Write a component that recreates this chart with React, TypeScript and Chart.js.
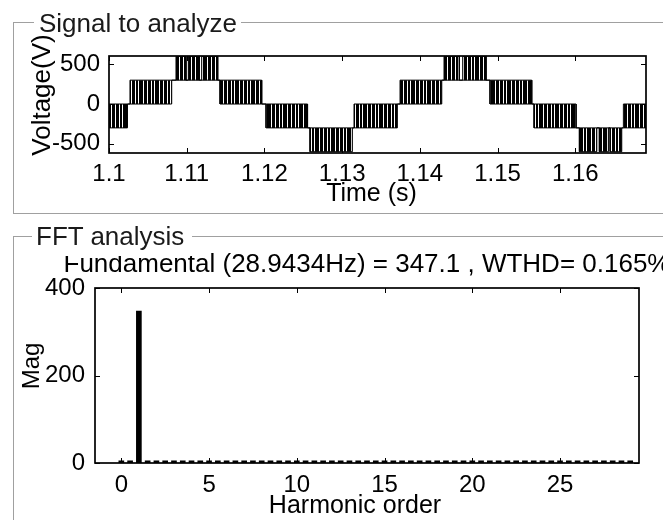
import React, { useEffect, useRef } from 'react';
import { Chart, registerables } from 'chart.js';

Chart.register(...registerables);

const FONT = "'Liberation Sans', Arial, Helvetica, sans-serif";

// ---------- Signal to analyze (PWM voltage) ----------
const timeMin = 1.1;
const timeMax = 1.1691;
const voltMin = -616;
const voltMax = 604;
const timeTicks = [1.1, 1.11, 1.12, 1.13, 1.14, 1.15, 1.16];
const timeTickLabels = ['1.1', '1.11', '1.12', '1.13', '1.14', '1.15', '1.16'];
const voltTicks = [-500, 0, 500];
const voltTickLabels = ['-500', '0', '500'];

// switching bands: inside each band the output toggles between bandLow and bandHigh
const bandStart = [1.1, 1.1027, 1.10862, 1.11429, 1.12021, 1.12587, 1.13153, 1.13745, 1.14311, 1.14903, 1.1547, 1.16053, 1.16619];
const bandEnd = [1.10238, 1.10807, 1.11399, 1.11965, 1.12555, 1.13131, 1.1371, 1.14282, 1.14852, 1.1544, 1.1601, 1.16598, 1.16911];
const bandLow = [-300, 0, 300, 0, -300, -600, -300, 0, 300, 0, -300, -600, -300];
const bandHigh = [0, 300, 600, 300, 0, -300, 0, 300, 600, 300, 0, -300, 0];
// level held between band i and band i+1
const restLevel = [0, 300, 300, 0, -300, -300, 0, 300, 300, 0, -300, -300];
// short pauses inside the peak bands
const pauseStart = [1.10991, 1.11162, 1.14508, 1.16277, 1.16426];
const pauseEnd = [1.11021, 1.11193, 1.14552, 1.1631, 1.16448];
const pauseLevel = [300, 300, 300, -300, -300];

// ---------- FFT analysis ----------
const fftTitle = 'Fundamental (28.9434Hz) = 347.1 , WTHD= 0.165%';
const harmonicOrder = [0, 0.5, 1, 1.5, 2, 2.5, 3, 3.5, 4, 4.5, 5, 5.5, 6, 6.5, 7, 7.5, 8, 8.5, 9, 9.5, 10, 10.5, 11, 11.5, 12, 12.5, 13, 13.5, 14, 14.5, 15, 15.5, 16, 16.5, 17, 17.5, 18, 18.5, 19, 19.5, 20, 20.5, 21, 21.5, 22, 22.5, 23, 23.5, 24, 24.5, 25, 25.5, 26, 26.5, 27, 27.5, 28, 28.5, 29];
const harmonicMag = [5, 5, 347.1, 5, 5, 5, 5, 5, 5, 5, 5, 5, 5, 5, 5, 5, 5, 5, 5, 5, 5, 5, 5, 5, 5, 5, 5, 5, 5, 5, 5, 5, 5, 5, 5, 5, 5, 5, 5, 5, 5, 5, 5, 5, 5, 5, 5, 5, 5, 5, 5, 5, 5, 5, 5, 5, 5, 5, 5];
const orderMin = -1.5;
const orderMax = 29.5;
const magMin = 0;
const magMax = 400;
const harmonicTicks = [0, 5, 10, 15, 20, 25];
const harmonicTickLabels = ['0', '5', '10', '15', '20', '25'];
const magTicks = [0, 200, 400];
const magTickLabels = ['0', '200', '400'];

function buildEnvelopes() {
  const upper: { x: number; y: number }[] = [];
  const lower: { x: number; y: number }[] = [];
  const push = (x: number, hi: number, lo: number) => {
    upper.push({ x, y: hi });
    lower.push({ x, y: lo });
  };
  bandStart.forEach((s, i) => {
    const e = bandEnd[i];
    if (i > 0) push(s, restLevel[i - 1], restLevel[i - 1]);
    push(s, bandHigh[i], bandLow[i]);
    pauseStart.forEach((ps, j) => {
      if (ps > s && ps < e) {
        push(ps, bandHigh[i], bandLow[i]);
        push(ps, pauseLevel[j], pauseLevel[j]);
        push(pauseEnd[j], pauseLevel[j], pauseLevel[j]);
        push(pauseEnd[j], bandHigh[i], bandLow[i]);
      }
    });
    push(e, bandHigh[i], bandLow[i]);
    if (i < bandStart.length - 1) push(e, restLevel[i], restLevel[i]);
  });
  return { upper, lower };
}

function stripePattern(ctx: CanvasRenderingContext2D) {
  const seq = [1, 1, 1, 0, 1, 1, 1, 0, 1, 1, 0, 1, 1, 1, 1, 0];
  const c = document.createElement('canvas');
  c.width = seq.length;
  c.height = 4;
  const g = c.getContext('2d')!;
  g.fillStyle = '#fff';
  g.fillRect(0, 0, c.width, c.height);
  g.fillStyle = '#000';
  seq.forEach((v, i) => {
    if (v) g.fillRect(i, 0, 1, c.height);
  });
  return ctx.createPattern(c, 'repeat');
}

const framePlugin = {
  id: 'matlabFrame',
  afterDatasetsDraw(chart: any, _args: any, opts: any) {
    const { ctx, chartArea: a, scales } = chart;
    const len = (opts && opts.tickLen) || 5;
    ctx.save();
    ctx.strokeStyle = '#000';
    ctx.lineWidth = 1;
    ctx.beginPath();
    for (const t of scales.x.ticks) {
      const px = Math.round(scales.x.getPixelForValue(t.value)) + 0.5;
      ctx.moveTo(px, a.bottom);
      ctx.lineTo(px, a.bottom - len);
      ctx.moveTo(px, a.top);
      ctx.lineTo(px, a.top + len);
    }
    for (const t of scales.y.ticks) {
      const py = Math.round(scales.y.getPixelForValue(t.value)) + 0.5;
      ctx.moveTo(a.left, py);
      ctx.lineTo(a.left + len, py);
      ctx.moveTo(a.right, py);
      ctx.lineTo(a.right - len, py);
    }
    ctx.stroke();
    ctx.lineWidth = 1.7;
    ctx.strokeRect(a.left, a.top, a.right - a.left, a.bottom - a.top);
    ctx.restore();
  },
};

const tickFont = { family: FONT, size: 24 };

function axisX(min: number, max: number, ticks: number[], labels: string[], pad: number, h: number) {
  return {
    type: 'linear' as const,
    min,
    max,
    offset: false,
    grid: { display: false, drawTicks: false },
    border: { display: false },
    afterBuildTicks: (s: any) => {
      s.ticks = ticks.map((v) => ({ value: v }));
    },
    afterFit: (s: any) => {
      s.height = h;
    },
    ticks: {
      font: tickFont,
      color: '#000',
      padding: pad,
      maxRotation: 0,
      autoSkip: false,
      callback: (_v: any, i: number) => labels[i],
    },
  };
}

function axisY(min: number, max: number, ticks: number[], labels: string[], pad: number, w: number) {
  return {
    type: 'linear' as const,
    min,
    max,
    grid: { display: false, drawTicks: false },
    border: { display: false },
    afterBuildTicks: (s: any) => {
      s.ticks = ticks.map((v) => ({ value: v }));
    },
    afterFit: (s: any) => {
      s.width = w;
    },
    ticks: {
      font: tickFont,
      color: '#000',
      padding: pad,
      autoSkip: false,
      callback: (_v: any, i: number) => labels[i],
    },
  };
}

export default function App() {
  const topRef = useRef<HTMLCanvasElement>(null);
  const botRef = useRef<HTMLCanvasElement>(null);

  useEffect(() => {
    const { upper, lower } = buildEnvelopes();
    const topCtx = topRef.current!.getContext('2d')!;
    const pattern = stripePattern(topCtx);
    const top = new Chart(topRef.current!, {
      type: 'line',
      data: {
        datasets: [
          { data: upper, borderColor: '#000', borderWidth: 1, pointRadius: 0, tension: 0, fill: false },
          { data: lower, borderColor: '#000', borderWidth: 1, pointRadius: 0, tension: 0, fill: '-1', backgroundColor: pattern as any },
        ],
      },
      options: {
        animation: false,
        responsive: false,
        events: [],
        layout: { padding: { left: 49, right: 17, top: 56, bottom: 19 } },
        plugins: { legend: { display: false }, tooltip: { enabled: false }, title: { display: false } } as any,
        scales: {
          x: axisX(timeMin, timeMax, timeTicks, timeTickLabels, 7, 40),
          y: axisY(voltMin, voltMax, voltTicks, voltTickLabels, 9, 60),
        } as any,
      },
      plugins: [framePlugin as any],
    });

    const bot = new Chart(botRef.current!, {
      type: 'bar',
      data: {
        datasets: [
          {
            data: harmonicOrder.map((h, i) => ({ x: h, y: harmonicMag[i] })) as any,
            backgroundColor: '#000',
            borderWidth: 0,
            barThickness: 5,
          },
        ],
      },
      options: {
        animation: false,
        responsive: false,
        events: [],
        layout: { padding: { left: 35, right: 24, top: 28, bottom: 17 } },
        plugins: { legend: { display: false }, tooltip: { enabled: false }, title: { display: false } } as any,
        scales: {
          x: axisX(orderMin, orderMax, harmonicTicks, harmonicTickLabels, 8, 40),
          y: axisY(magMin, magMax, magTicks, magTickLabels, 10, 60),
        } as any,
      },
      plugins: [framePlugin as any],
    });

    return () => {
      top.destroy();
      bot.destroy();
    };
  }, []);

  const abs = (s: React.CSSProperties): React.CSSProperties => ({ position: 'absolute', ...s });
  const line = '1px solid #a0a0a0';

  return (
    <div style={{ position: 'fixed', left: 0, top: 0, width: 663, height: 520, background: '#fff', overflow: 'hidden', fontFamily: FONT, color: '#000' }}>
      <canvas ref={topRef} width={663} height={212} style={abs({ left: 0, top: 0 })} />
      <canvas ref={botRef} width={663} height={260} style={abs({ left: 0, top: 260 })} />

      {/* group boxes */}
      <div style={abs({ left: 13, top: 22, width: 700, height: 190, borderTop: line, borderLeft: line, borderBottom: line })} />
      <div style={abs({ left: 13, top: 236, width: 700, height: 400, borderTop: line, borderLeft: line })} />

      {/* FFT title */}
      <div style={abs({ left: -33, top: 250, width: 800, textAlign: 'center', fontSize: 26, lineHeight: '26px', whiteSpace: 'nowrap' })}>{fftTitle}</div>

      {/* group labels */}
      <div style={abs({ left: 34, top: 4, width: 207, height: 32, background: '#fff' })}>
        <div style={abs({ left: 5, top: 6, fontSize: 26, lineHeight: '26px', whiteSpace: 'nowrap', color: '#1a1a1a' })}>Signal to analyze</div>
      </div>
      <div style={abs({ left: 32, top: 218, width: 160, height: 38, background: '#fff' })}>
        <div style={abs({ left: 4, top: 5, fontSize: 26, lineHeight: '26px', whiteSpace: 'nowrap', color: '#1a1a1a' })}>FFT analysis</div>
      </div>

      {/* axis titles */}
      <div style={abs({ left: 221.5, top: 179.5, width: 300, textAlign: 'center', fontSize: 25, lineHeight: '25px', whiteSpace: 'nowrap' })}>Time (s)</div>
      <div style={abs({ left: 205, top: 491.8, width: 300, textAlign: 'center', fontSize: 25, lineHeight: '25px', whiteSpace: 'nowrap' })}>Harmonic order</div>
      <div style={abs({ left: 41.3 - 100, top: 95 - 13, width: 200, height: 26, textAlign: 'center', fontSize: 26, lineHeight: '26px', whiteSpace: 'nowrap', transform: 'rotate(-90deg)' })}>Voltage(V)</div>
      <div style={abs({ left: 30.6 - 100, top: 365.8 - 12, width: 200, height: 24, textAlign: 'center', fontSize: 24, lineHeight: '24px', whiteSpace: 'nowrap', transform: 'rotate(-90deg)' })}>Mag</div>
    </div>
  );
}
